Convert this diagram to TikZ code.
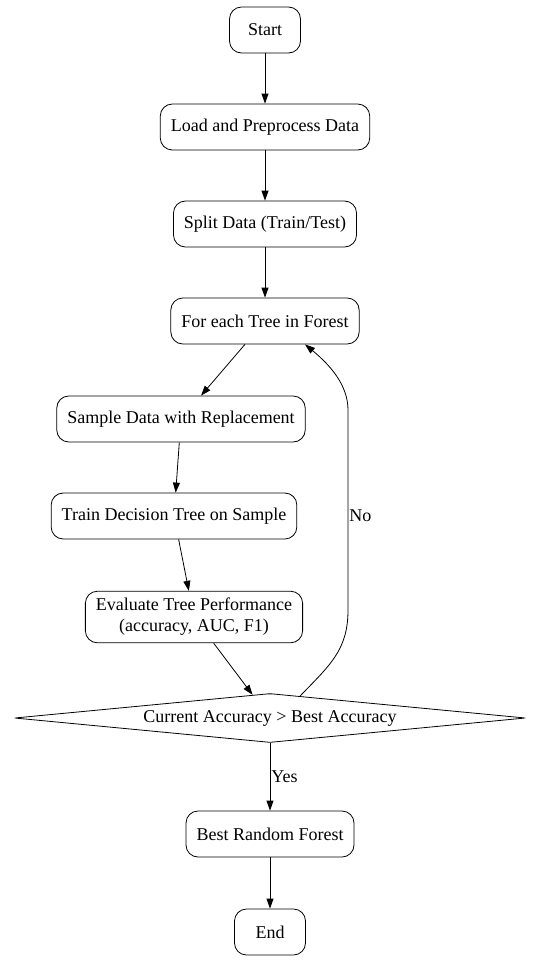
\documentclass[tikz,border=0pt]{standalone}
\usepackage{fontspec}
\setmainfont{Liberation Serif}
\usetikzlibrary{shapes.geometric,arrows.meta,calc}
\begin{document}
\begin{tikzpicture}[x=1pt,y=1pt,
  box/.style={draw,rounded corners=12pt,minimum height=46pt,minimum width=71pt,inner xsep=10.5pt,inner ysep=7pt,align=center,font=\fontsize{18}{21}\selectfont,line width=0.8pt},
  dec/.style={draw,shape=diamond,aspect=10.4,minimum width=511pt,minimum height=49pt,inner sep=0pt,rounded corners=2pt,font=\fontsize{18}{21}\selectfont,line width=0.8pt},
  arr/.style={-{Triangle[length=10pt,width=7pt]},line width=0.8pt},
  lbl/.style={font=\fontsize{18}{21}\selectfont,inner sep=1pt}]
\useasboundingbox (0,0) rectangle (542,-962);
\node[box] (st) at (265,-30) {Start};
\node[box] (ld) at (265,-127) {Load and Preprocess Data};
\node[box] (sp) at (265,-224) {Split Data (Train/Test)};
\node[box] (fe) at (265,-321) {For each Tree in Forest};
\node[box] (sd) at (181,-419) {Sample Data with Replacement};
\node[box] (tr) at (174,-516) {Train Decision Tree on Sample};
\node[box] (ev) at (194,-617) {Evaluate Tree Performance\\(accuracy, AUC, F1)};
\node[dec] (dm) at (270,-718) {Current Accuracy > Best Accuracy};
\node[box] (br) at (270,-834) {Best Random Forest};
\node[box] (en) at (270,-932) {End};
\draw[arr] (st) -- (ld);
\draw[arr] (ld) -- (sp);
\draw[arr] (sp) -- (fe);
\draw[arr] (fe) -- (sd);
\draw[arr] (sd) -- (tr);
\draw[arr] (tr) -- (ev);
\draw[arr] (ev) -- (dm);
\draw[arr] (dm) -- node[lbl,right,pos=0.5] {Yes} (br);
\draw[arr] ($(dm.north)+(30,-3)$) .. controls (330,-665) and (348,-650) .. (348,-610)
  -- node[lbl,right,pos=0.47] {No} (348,-410) .. controls (348,-385) and (330,-365) .. ([xshift=40pt]fe.south);
\draw[arr] (br) -- (en);
\end{tikzpicture}
\end{document}
